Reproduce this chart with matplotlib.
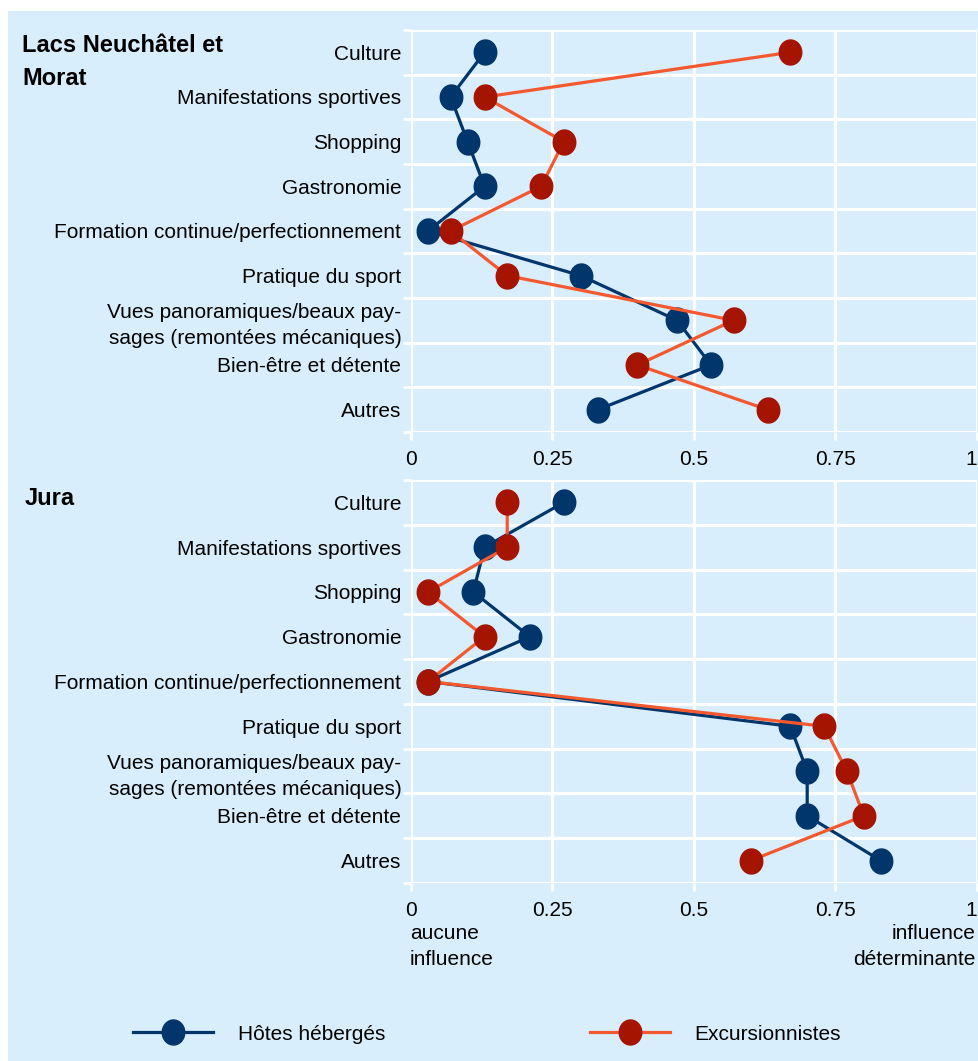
import numpy as np
import matplotlib
matplotlib.use("Agg")
import matplotlib.pyplot as plt
from matplotlib.patches import Rectangle
from matplotlib.path import Path
from matplotlib.transforms import ScaledTranslation

plt.rcParams['font.family'] = ['Liberation Sans', 'DejaVu Sans']

# Données
categories = ["Culture", "Manifestations sportives", "Shopping", "Gastronomie",
              "Formation continue/perfectionnement", "Pratique du sport",
              "Vues panoramiques/beaux pay-\nsages (remontées mécaniques)",
              "Bien-être et détente", "Autres"]

lacs_hotes = [0.13, 0.07, 0.10, 0.13, 0.03, 0.30, 0.47, 0.53, 0.33]
lacs_excurs = [0.67, 0.13, 0.27, 0.23, 0.07, 0.17, 0.57, 0.40, 0.63]

jura_hotes = [0.27, 0.13, 0.11, 0.21, 0.03, 0.67, 0.70, 0.70, 0.83]
jura_excurs = [0.17, 0.17, 0.03, 0.13, 0.03, 0.73, 0.77, 0.80, 0.60]

x_ticks = [0, 0.25, 0.5, 0.75, 1]
x_ticklabels = ["0", "0.25", "0.5", "0.75", "1"]

# Couleurs
fond = "#d9eefc"
bleu = "#00366b"
ligne_rouge = "#f4582f"
point_rouge = "#a51400"

FS = 15

W, H = 979, 1061
fig = plt.figure(figsize=(W / 100, H / 100), dpi=100)
fig.patch.set_facecolor("white")
fig.patches.append(Rectangle((8 / W, 0), 1, 1 - 11 / H, transform=fig.transFigure,
                             facecolor=fond, edgecolor="none", zorder=-5))

# marqueur ovale (un peu plus haut que large)
t = np.linspace(0, 2 * np.pi, 60)
ovale = Path(np.column_stack([0.9 * np.cos(t), np.sin(t)]), closed=True)


def panneau(rect, hotes, excurs, titre, titre_pos):
    ax = fig.add_axes(rect)
    ax.set_facecolor(fond)
    y = np.arange(len(categories))
    l1, = ax.plot(hotes, y, color=bleu, lw=2.3, marker=ovale, markersize=18,
                  markerfacecolor=bleu, markeredgecolor=bleu, zorder=3)
    l2, = ax.plot(excurs, y, color=ligne_rouge, lw=2.3, marker=ovale, markersize=18,
                  markerfacecolor=point_rouge, markeredgecolor=point_rouge, zorder=4)
    ax.set_xlim(0, 1)
    ax.set_ylim(len(categories) - 0.5, -0.5)
    ax.set_yticks(y)
    ax.set_yticklabels(categories, fontsize=FS)
    for lab in ax.get_yticklabels():
        if "\n" in lab.get_text():
            lab.set_linespacing(1.45)
            lab.set_transform(lab.get_transform() +
                              ScaledTranslation(0, 4 / 72, fig.dpi_scale_trans))
    ax.set_yticks(np.arange(len(categories) + 1) - 0.5, minor=True)
    ax.tick_params(axis="y", which="major", length=0, pad=7)
    ax.tick_params(axis="y", which="minor", length=6, width=2, color="white")
    ax.set_xticks(x_ticks)
    ax.set_xticklabels(x_ticklabels, fontsize=FS)
    ax.get_xticklabels()[-1].set_horizontalalignment("right")
    ax.tick_params(axis="x", length=6, width=2, color="white", pad=7)
    ax.grid(True, which="minor", axis="y", color="white", lw=2.2)
    ax.grid(True, which="major", axis="x", color="white", lw=2.2)
    ax.set_axisbelow(True)
    for s in ax.spines.values():
        s.set_visible(False)
    fig.text(titre_pos[0] / W, 1 - titre_pos[1] / H, titre, fontsize=17,
             fontweight="bold", ha="left", va="top", linespacing=1.55)
    return ax, l1, l2


ax1, l1, l2 = panneau([411 / W, 1 - 432 / H, 566 / W, 402 / H],
                      lacs_hotes, lacs_excurs, "Lacs Neuchâtel et\nMorat", (22, 34))
ax2, _, _ = panneau([411 / W, 1 - 883 / H, 566 / W, 403 / H],
                    jura_hotes, jura_excurs, "Jura", (25, 487))

fig.text(410 / W, 1 - 924 / H, "aucune\ninfluence", fontsize=FS, ha="left", va="top",
         linespacing=1.45)
fig.text(976 / W, 1 - 924 / H, "influence\ndéterminante", fontsize=FS, ha="right",
         va="top", linespacing=1.45, multialignment="right")

fig.legend([l1, l2], ["Hôtes hébergés", "Excursionnistes"], loc="center left",
           bbox_to_anchor=(114 / W, 1 - 1034 / H), ncol=2, frameon=False, fontsize=FS,
           handlelength=3.85, handletextpad=1.2, columnspacing=9.8)

fig.savefig("out.png", dpi=100)
